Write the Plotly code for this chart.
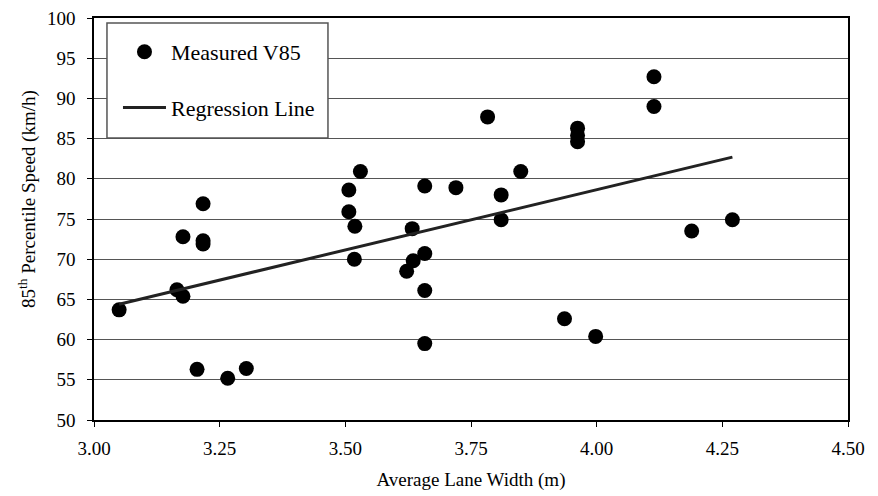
import plotly.graph_objects as go

lane_width = [3.05, 3.165, 3.177, 3.177, 3.217, 3.217, 3.217, 3.205, 3.266, 3.303,
              3.507, 3.507, 3.519, 3.530, 3.518, 3.622, 3.635, 3.633, 3.658, 3.658,
              3.658, 3.658, 3.720, 3.783, 3.810, 3.810, 3.849, 3.962, 3.962, 3.962,
              3.936, 3.998, 4.114, 4.114, 4.189, 4.270]
v85 = [63.7, 66.2, 65.4, 72.8, 76.9, 72.3, 71.9, 56.3, 55.2, 56.4,
       78.6, 75.9, 74.1, 80.9, 70.0, 68.5, 69.8, 73.8, 79.1, 70.7,
       66.1, 59.5, 78.9, 87.7, 78.0, 74.9, 80.9, 86.3, 85.4, 84.6,
       62.6, 60.4, 92.7, 89.0, 73.5, 74.9]
reg_x = [3.05, 4.27]
reg_y = [64.4, 82.7]

x_ticks = [3.00, 3.25, 3.50, 3.75, 4.00, 4.25, 4.50]
x_tick_labels = ["3.00", "3.25", "3.50", "3.75", "4.00", "4.25", "4.50"]
y_ticks = [50, 55, 60, 65, 70, 75, 80, 85, 90, 95, 100]

FONT = "Liberation Serif"

fig = go.Figure()
fig.add_trace(go.Scatter(
    x=lane_width, y=v85, mode="markers", name="Measured V85",
    legendgroup="a",
    marker=dict(color="black", size=15, line=dict(width=0)),
))
fig.add_trace(go.Scatter(
    x=reg_x, y=reg_y, mode="lines", name="Regression Line",
    legendgroup="b",
    line=dict(color="#222222", width=3),
))

fig.update_layout(
    width=878, height=496,
    margin=dict(l=86, r=38, t=10, b=84),
    paper_bgcolor="white", plot_bgcolor="white",
    font=dict(family=FONT, color="black", size=19),
    showlegend=True,
    legend=dict(
        x=0.0318, y=0.9677, xanchor="left", yanchor="top",
        bgcolor="rgba(0,0,0,0)", borderwidth=0,
        font=dict(family=FONT, size=22, color="black"),
        tracegroupgap=24, traceorder="grouped",
        itemwidth=43,
    ),
    shapes=[dict(
        type="rect", xref="paper", yref="paper",
        x0=0.0172, x1=0.3103, y0=0.7015, y1=0.9876,
        fillcolor="white", line=dict(color="#555555", width=1.5),
        layer="above",
    )],
    xaxis=dict(
        range=[3.0, 4.5], tickvals=x_ticks, ticktext=x_tick_labels,
        showgrid=False, zeroline=False, automargin=False,
        showline=True, linecolor="black", linewidth=1.5, mirror=True,
        ticks="outside", ticklen=5, tickcolor="black",
        ticklabelstandoff=5, ticklabeloverflow="allow",
        tickfont=dict(family=FONT, size=19),
        title=dict(text="Average Lane Width (m)", font=dict(family=FONT, size=19), standoff=15),
    ),
    yaxis=dict(
        range=[50, 100], tickvals=y_ticks,
        showgrid=True, gridcolor="#555555", gridwidth=1,
        zeroline=False, automargin=False,
        showline=True, linecolor="black", linewidth=1.5, mirror=True,
        ticks="outside", ticklen=5, tickcolor="black",
        ticklabelstandoff=8, ticklabeloverflow="allow",
        tickfont=dict(family=FONT, size=19),
    ),
    annotations=[dict(
        text="85<sup>th</sup> Percentile Speed (km/h)",
        xref="paper", yref="paper", x=-0.0875, y=0.55,
        xanchor="center", yanchor="middle", textangle=-90,
        showarrow=False, font=dict(family=FONT, size=19),
    )],
)

fig.write_html("out.html")
